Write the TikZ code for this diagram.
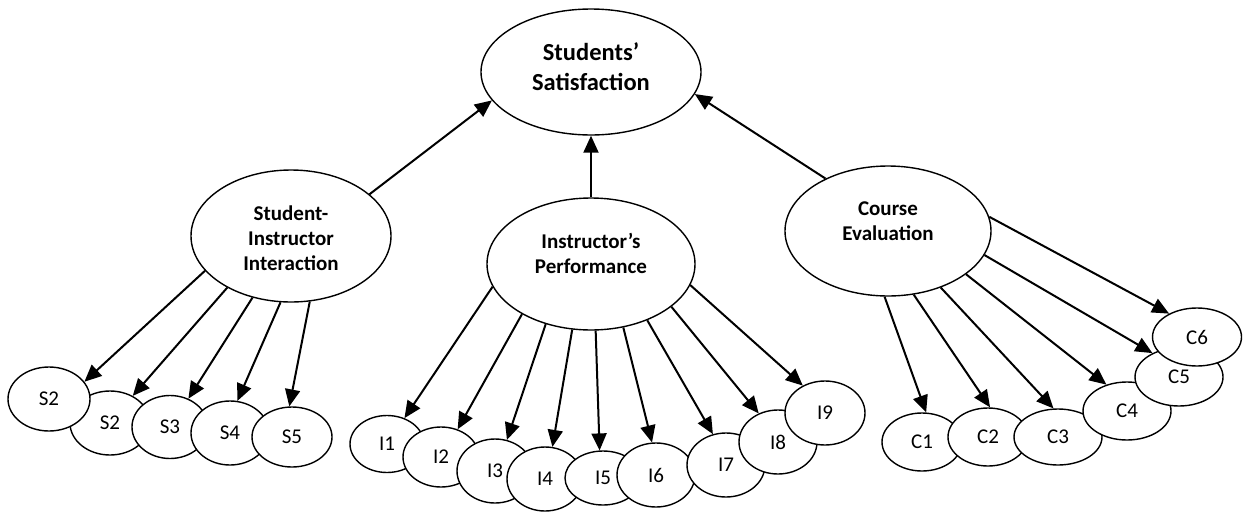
\documentclass[tikz,border=0pt]{standalone}
\usepackage{fontspec}
\setmainfont{Carlito}
\usetikzlibrary{shapes.geometric,arrows.meta}
\tikzset{
  ell/.style={ellipse, draw, line width=1.4pt, fill=white, inner sep=0pt},
  bigtext/.style={font=\bfseries\fontsize{21}{25}\selectfont, align=center, inner sep=0pt},
  small/.style={ell, font=\fontsize{21}{25}\selectfont},
  arr/.style={line width=2pt, -{Triangle[length=17pt,width=15pt]}}
}
\begin{document}
\begin{tikzpicture}[x=1pt,y=-1pt]
\useasboundingbox (0,0) rectangle (1243,512);
% top node
\node[ell, minimum width=220pt, minimum height=126pt] (ss) at (591,72) {};
\node[bigtext, font=\bfseries\fontsize{24.5}{30}\selectfont] (sst) at (591,67) {Students’\\Satisfaction};
% second level
\node[ell, minimum width=200pt, minimum height=132pt] (sii) at (291,236) {};
\node[bigtext] (siit) at (291,238) {Student-\\Instructor\\Interaction};
\node[ell, minimum width=208pt, minimum height=132pt] (ip) at (591,264) {};
\node[bigtext] (ipt) at (591,253) {Instructor’s\\Performance};
\node[ell, minimum width=206pt, minimum height=130pt] (ce) at (888,231) {};
\node[bigtext] (cet) at (888,221) {Course\\Evaluation};
% S group
\node[small, minimum width=80pt, minimum height=64pt] (s2b) at (110,423) {S2};
\node[small, minimum width=82pt, minimum height=64pt] (s2a) at (49,399) {S2};
\node[small, minimum width=76pt, minimum height=63pt] (s3) at (170,427) {S3};
\node[small, minimum width=78pt, minimum height=64pt] (s4) at (230,433) {S4};
\node[small, minimum width=80pt, minimum height=60pt] (s5) at (292,437) {S5};
% I group
\node[small, minimum width=74pt, minimum height=57pt] (i1) at (387,444) {I1};
\node[small, minimum width=76pt, minimum height=60pt] (i2) at (441,457) {I2};
\node[small, minimum width=76pt, minimum height=64pt] (i3) at (495,471) {I3};
\node[small, minimum width=76pt, minimum height=64pt] (i4) at (545,479) {I4};
\node[small, minimum width=76pt, minimum height=54pt] (i5) at (603,478) {I5};
\node[small, minimum width=78pt, minimum height=64pt] (i6) at (656,475) {I6};
\node[small, minimum width=78pt, minimum height=64pt] (i7) at (726,465) {I7};
\node[small, minimum width=78pt, minimum height=64pt] (i8) at (778,442) {I8};
\node[small, minimum width=80pt, minimum height=64pt] (i9) at (825,413) {I9};
% C group
\node[small, minimum width=80pt, minimum height=58pt] (c1) at (922,442) {C1};
\node[small, minimum width=80pt, minimum height=58pt] (c2) at (988,437) {C2};
\node[small, minimum width=88pt, minimum height=56pt] (c3) at (1058,437) {C3};
\node[small, minimum width=88pt, minimum height=58pt] (c4) at (1127,411) {C4};
\node[small, minimum width=88pt, minimum height=58pt] (c5) at (1179,377) {C5};
\node[small, minimum width=89pt, minimum height=58pt] (c6) at (1197,337) {C6};
% top arrows
\draw[arr] (sii.28) -- (ss.196);
\draw[arr] (ip.90) -- (ss.270);
\draw[arr] (ce.140.6) -- (ss.348.8);
% SII arrows
\draw[arr] (sii.202.7) -- (s2a.26.6);
\draw[arr] (sii.219.1) -- (s2b.50.2);
\draw[arr] (sii.238.6) -- (s3.57);
\draw[arr] (sii.261.6) -- (s4.77);
\draw[arr] (sii.286.8) -- (s5.95);
% IP arrows
\draw[arr] (ip.193) -- (i1.56);
\draw[arr] (ip.216.1) -- (i2.59.8);
\draw[arr] (ip.233) -- (i3.69.7);
\draw[arr] (ip.254.3) -- (i4.77.7);
\draw[arr] (ip.274.7) -- (i5.97);
\draw[arr] (ip.297.4) -- (i6.97.7);
\draw[arr] (ip.315.9) -- (i7.113);
\draw[arr] (ip.332.2) -- (i8.124);
\draw[arr] (ip.348.2) -- (i9.129);
% CE arrows
\draw[arr] (ce.267.6) -- (c1.82.4);
\draw[arr] (ce.292.3) -- (c2.86.2);
\draw[arr] (ce.313.7) -- (c3.99);
\draw[arr] (ce.331.3) -- (c4.128);
\draw[arr] (ce.346.9) -- (c5.138.4);
\draw[arr] (ce.8.3) -- (c6.140.8);
\end{tikzpicture}
\end{document}
